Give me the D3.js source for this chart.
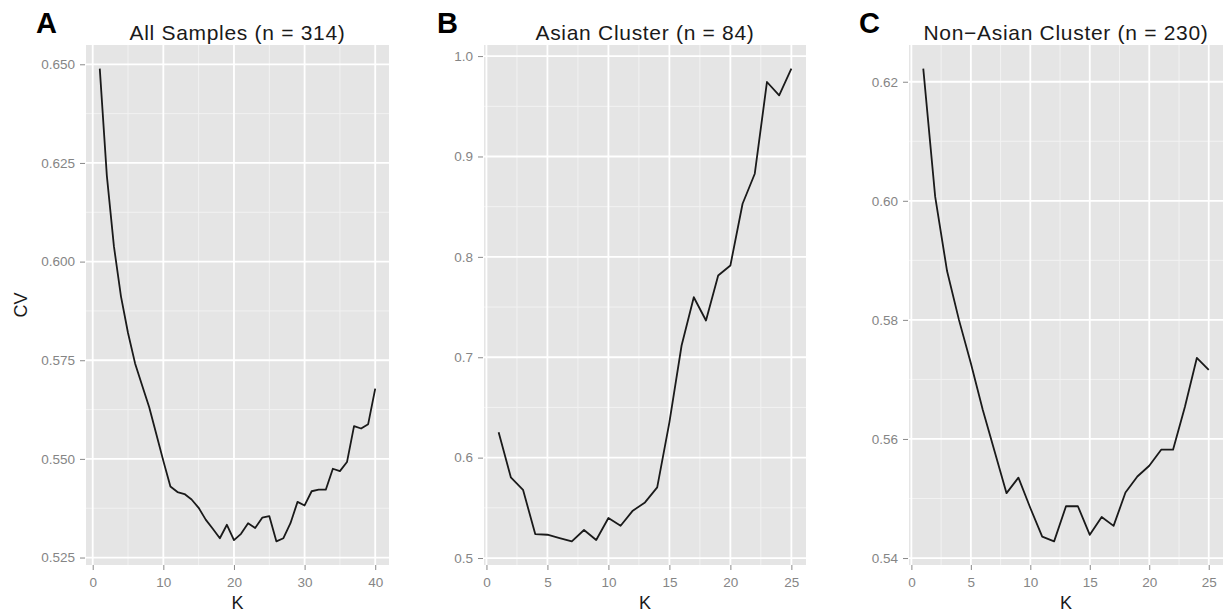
<!DOCTYPE html>
<html>
<head>
<meta charset="utf-8">
<script src="https://cdn.jsdelivr.net/npm/d3@7"></script>
<style>
  body{margin:0;background:#fff;}
  svg{display:block;font-family:"Liberation Sans",Arial,Helvetica,sans-serif;}
  .tick text{fill:#858585;font-size:13.5px;}
  .tick line{stroke:#8a8a8a;}
</style>
</head>
<body>
<div id="chart"></div>
<script>
// K values (number of ancestral populations) for each run
let kAll=d3.range(1,41)
let kAsian=d3.range(1,26)
let kNonAsian=d3.range(1,26)

// cross validation error
let cvAll=[0.6489,0.6218,0.6039,0.5912,0.5819,0.5742,0.5686,0.5631,0.5563,0.5495,
           0.5430,0.5416,0.5411,0.5397,0.5376,0.5346,0.5323,0.5299,0.5333,0.5294,
           0.5310,0.5337,0.5325,0.5351,0.5355,0.5291,0.5299,0.5337,0.5391,0.5382,
           0.5418,0.5422,0.5422,0.5475,0.5469,0.5492,0.5583,0.5577,0.5588,0.5678]
let cvAsian=[0.6252,0.5804,0.5680,0.5239,0.5232,0.5199,0.5166,0.5279,0.5180,0.5399,
             0.5322,0.5472,0.5554,0.5704,0.6352,0.7117,0.7598,0.7366,0.7815,0.7914,
             0.8529,0.8828,0.9742,0.9609,0.9875]
let cvNonAsian=[0.6222,0.6007,0.5882,0.5800,0.5727,0.5649,0.5579,0.5509,0.5535,0.5484,
                0.5436,0.5428,0.5487,0.5487,0.5439,0.5469,0.5454,0.5510,0.5537,0.5555,
                0.5582,0.5582,0.5654,0.5736,0.5716]

// tick labels
let xTicksAll=[0,10,20,30,40]
let yTicksAll=[0.525,0.550,0.575,0.600,0.625,0.650]
let xTicksAsian=[0,5,10,15,20,25]
let yTicksAsian=[0.5,0.6,0.7,0.8,0.9,1.0]
let xTicksNonAsian=[0,5,10,15,20,25]
let yTicksNonAsian=[0.54,0.56,0.58,0.60,0.62]

let titles=["All Samples (n = 314)","Asian Cluster (n = 84)","Non\u2212Asian Cluster (n = 230)"]
let letters=["A","B","C"]

let width=1223
let height=613
let svg=d3.select("#chart").append("svg").attr("width",width).attr("height",height)

let plotTop=45, plotBottom=565
let panels=[
  {k:kAll,cv:cvAll,xt:xTicksAll,yt:yTicksAll,fmt:".3f",left:86,right:389,letterX:36,ylab:true},
  {k:kAsian,cv:cvAsian,xt:xTicksAsian,yt:yTicksAsian,fmt:".1f",left:484,right:806,letterX:437,ylab:false},
  {k:kNonAsian,cv:cvNonAsian,xt:xTicksNonAsian,yt:yTicksNonAsian,fmt:".2f",left:909,right:1223,letterX:859,ylab:false}
]

//ggplot style 5% expansion of the data range
function expand(ext){
  let r=ext[1]-ext[0]
  return [ext[0]-r*0.05,ext[1]+r*0.05]
}
function minors(ticks,dom){
  let out=[]
  for(let i=0;i<ticks.length-1;i++) out.push((ticks[i]+ticks[i+1])/2)
  return out.filter(v=>v>=dom[0]&&v<=dom[1])
}

panels.forEach((p,i)=>{
  let xScale=d3.scaleLinear().domain(expand(d3.extent(p.k))).range([p.left,p.right])
  let yScale=d3.scaleLinear().domain(expand(d3.extent(p.cv))).range([plotBottom,plotTop])
  let g=svg.append("g")

  g.append("rect").attr("x",p.left).attr("y",plotTop).attr("width",p.right-p.left).attr("height",plotBottom-plotTop).attr("fill","#e5e5e5")

  //minor grid
  g.selectAll(".mx").data(minors(p.xt,xScale.domain())).enter().append("line")
    .attr("x1",d=>xScale(d)).attr("x2",d=>xScale(d)).attr("y1",plotTop).attr("y2",plotBottom)
    .attr("stroke","#f2f2f2").attr("stroke-width",1)
  g.selectAll(".my").data(minors(p.yt,yScale.domain())).enter().append("line")
    .attr("y1",d=>yScale(d)).attr("y2",d=>yScale(d)).attr("x1",p.left).attr("x2",p.right)
    .attr("stroke","#f2f2f2").attr("stroke-width",1)
  //major grid
  g.selectAll(".gx").data(p.xt).enter().append("line")
    .attr("x1",d=>xScale(d)).attr("x2",d=>xScale(d)).attr("y1",plotTop).attr("y2",plotBottom)
    .attr("stroke","#fff").attr("stroke-width",1.8)
  g.selectAll(".gy").data(p.yt).enter().append("line")
    .attr("y1",d=>yScale(d)).attr("y2",d=>yScale(d)).attr("x1",p.left).attr("x2",p.right)
    .attr("stroke","#fff").attr("stroke-width",1.8)

  //the cv curve
  let line=d3.line().x((d,j)=>xScale(p.k[j])).y(d=>yScale(d))
  g.append("path").datum(p.cv).attr("d",line).attr("fill","none").attr("stroke","#1a1a1a").attr("stroke-width",1.8).attr("stroke-linejoin","round")

  //axes
  let axisX=d3.axisBottom(xScale).tickValues(p.xt).tickSize(5).tickSizeOuter(0).tickPadding(7)
  let axisY=d3.axisLeft(yScale).tickValues(p.yt).tickFormat(d3.format(p.fmt)).tickSize(5).tickSizeOuter(0).tickPadding(5)
  g.append("g").attr("transform","translate(0,"+plotBottom+")").call(axisX).call(a=>a.select(".domain").remove())
  g.append("g").attr("transform","translate("+(p.left-1)+",0)").call(axisY).call(a=>a.select(".domain").remove())

  //labels
  g.append("text").attr("x",(p.left+p.right)/2).attr("y",40).attr("text-anchor","middle").attr("font-size",21).attr("letter-spacing","0.7px").attr("fill","#1a1a1a").text(titles[i])
  g.append("text").attr("x",p.letterX).attr("y",33).attr("font-size",29).attr("font-weight","bold").attr("fill","#000").text(letters[i])
  g.append("text").attr("x",(p.left+p.right)/2).attr("y",609).attr("text-anchor","middle").attr("font-size",18).attr("fill","#1a1a1a").text("K")
  if(p.ylab){
    g.append("text").attr("transform","translate(27,"+((plotTop+plotBottom)/2)+") rotate(-90)").attr("text-anchor","middle").attr("font-size",18).attr("fill","#1a1a1a").text("CV")
  }
})
</script>
</body>
</html>
